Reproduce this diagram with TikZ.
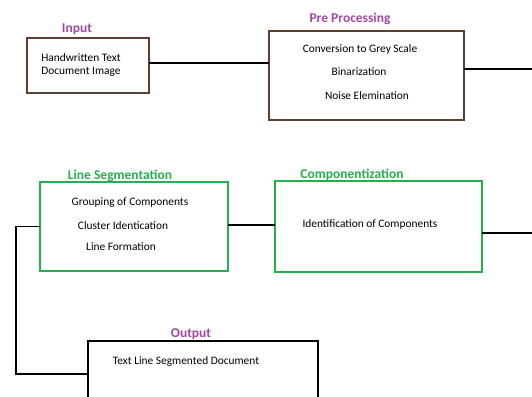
\documentclass[tikz,border=0pt]{standalone}
\usepackage{fontspec}
\setmainfont{Carlito}
\definecolor{boxbrown}{RGB}{92,64,51}
\definecolor{boxgreen}{RGB}{34,177,76}
\definecolor{headpurple}{RGB}{163,73,164}
\definecolor{headgreen}{RGB}{34,177,76}
\tikzset{
  stage/.style={draw,line width=1.6pt,inner sep=0pt,outer sep=0pt},
  brownstage/.style={stage,draw=boxbrown},
  greenstage/.style={stage,draw=boxgreen},
  blackstage/.style={stage,draw=black},
  head/.style={font=\fontsize{13.5}{15}\selectfont\bfseries},
  txt/.style={font=\fontsize{11.4}{13.5}\selectfont,align=center,inner sep=0pt},
  link/.style={line width=1.6pt}
}
\begin{document}
\begin{tikzpicture}[x=1pt,y=-1pt]
        \useasboundingbox (0,0) rectangle (532,396);
        \clip (0,0) rectangle (532,396);
        % boxes
        \node[brownstage,minimum width=122pt,minimum height=55pt] (inp) at (88,65.5) {};
        \node[brownstage,minimum width=195pt,minimum height=89pt] (pre) at (366.5,75.5) {};
        \node[greenstage,minimum width=188pt,minimum height=89pt] (seg) at (134,226.5) {};
        \node[greenstage,minimum width=207pt,minimum height=91pt] (comp) at (378.5,226.5) {};
        \node[blackstage,minimum width=230pt,minimum height=80pt] (outp) at (203,381) {};
        % headings
        \node[head,text=headpurple] (inphead) at (77,29) {Input};
        \node[head,text=headpurple] (prehead) at (350,19) {Pre Processing};
        \node[head,text=headgreen] (seghead) at (120,176) {Line Segmentation};
        \node[head,text=headgreen] (comphead) at (352,175) {Componentization};
        \node[head,text=headpurple] (outphead) at (191,334) {Output};
        % lecter
        \node[txt] (inptxt) at (81,65) {Handwritten Text\\ Document Image};
        \node[txt] (pretxta) at (360,49) {Conversion to Grey Scale};
        \node[txt] (pretxtb) at (359,72) {Binarization};
        \node[txt] (pretxtc) at (367,96) {Noise Elemination};
        \node[txt] (segtxta) at (130,203) {Grouping of Components};
        \node[txt] (segtxtb) at (123,226) {Cluster Identication};
        \node[txt] (segtxtc) at (121,247) {Line Formation};
        \node[txt] (comptxt) at (370,224) {Identification of Components};
        \node[txt] (outptxt) at (186,362) {Text Line Segmented Document};
        % line
        \coordinate (preout) at (532,69);
        \coordinate (compout) at (532,233);
        \coordinate (bend) at (16,374);
        \draw[link] ([yshift=2.5pt]inp.east) -- ([yshift=2.5pt]inp.east -| pre.west);
        \draw[link] (pre.east |- preout) -- (preout);
        \draw[link] ([yshift=1.5pt]seg.east) -- ([yshift=1.5pt]seg.east -| comp.west);
        \draw[link] (comp.east |- compout) -- (compout);
        \draw[link] (seg.west) -| (bend) -- (outp.west |- bend);
\end{tikzpicture}
\end{document}
